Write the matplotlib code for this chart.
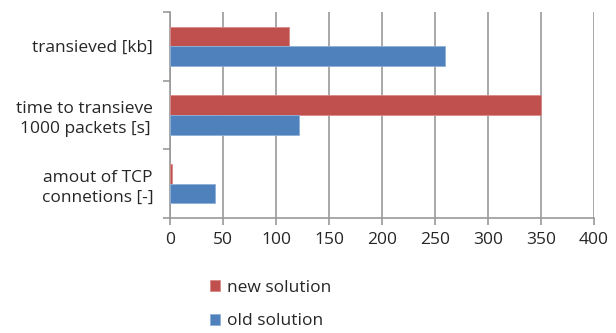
import matplotlib.pyplot as plt
import numpy as np

categories = ['amout of TCP\nconnetions [-]', 'time to transieve\n1000 packets [s]', 'transieved [kb]']
new_solution = [2, 350, 112]
old_solution = [42, 122, 260]
xticks = [0, 50, 100, 150, 200, 250, 300, 350, 400]

plt.rcParams['font.family'] = ['Open Sans', 'DejaVu Sans']

red = '#C0504D'
blue = '#4F81BD'
grid = '#999999'
text = '#262626'

fig = plt.figure(figsize=(6.16, 3.33), dpi=100)
ax = fig.add_axes([0.276, 0.345, 0.688, 0.619])

y = np.arange(len(categories))
h = 0.286
ax.barh(y + h / 2, new_solution, height=h, color=red, edgecolor='#d98a88', linewidth=0.6, label='new solution', zorder=3)
ax.barh(y - h / 2, old_solution, height=h, color=blue, edgecolor='#8fb0d8', linewidth=0.6, label='old solution', zorder=3)

ax.set_xlim(0, 400)
ax.set_ylim(-0.5, len(categories) - 0.5)
ax.set_xticks(xticks)
ax.set_yticks(y)
ax.set_yticklabels(categories, fontsize=12.5, color=text, ha='right', multialignment='center', linespacing=1.3)
ax.set_yticks(np.arange(len(categories) + 1) - 0.5, minor=True)
ax.tick_params(axis='y', which='major', length=0, pad=12)
ax.tick_params(axis='y', which='minor', length=5, width=1.2, color=grid, direction='out')
ax.tick_params(axis='x', length=5, width=1.2, color=grid, labelsize=12.5, labelcolor=text, pad=5)

ax.grid(axis='x', color=grid, linewidth=1.2, zorder=0)
for side in ['top', 'right']:
    ax.spines[side].set_visible(False)
for side in ['left', 'bottom']:
    ax.spines[side].set_color(grid)
    ax.spines[side].set_linewidth(1.2)

fig.legend(loc='upper left', bbox_to_anchor=(0.341, 0.16), frameon=False, fontsize=12.5,
           labelcolor=text, handlelength=0.58, handleheight=0.58, handletextpad=0.4,
           labelspacing=1.02, borderaxespad=0, borderpad=0)

fig.savefig('out.png', dpi=100)
